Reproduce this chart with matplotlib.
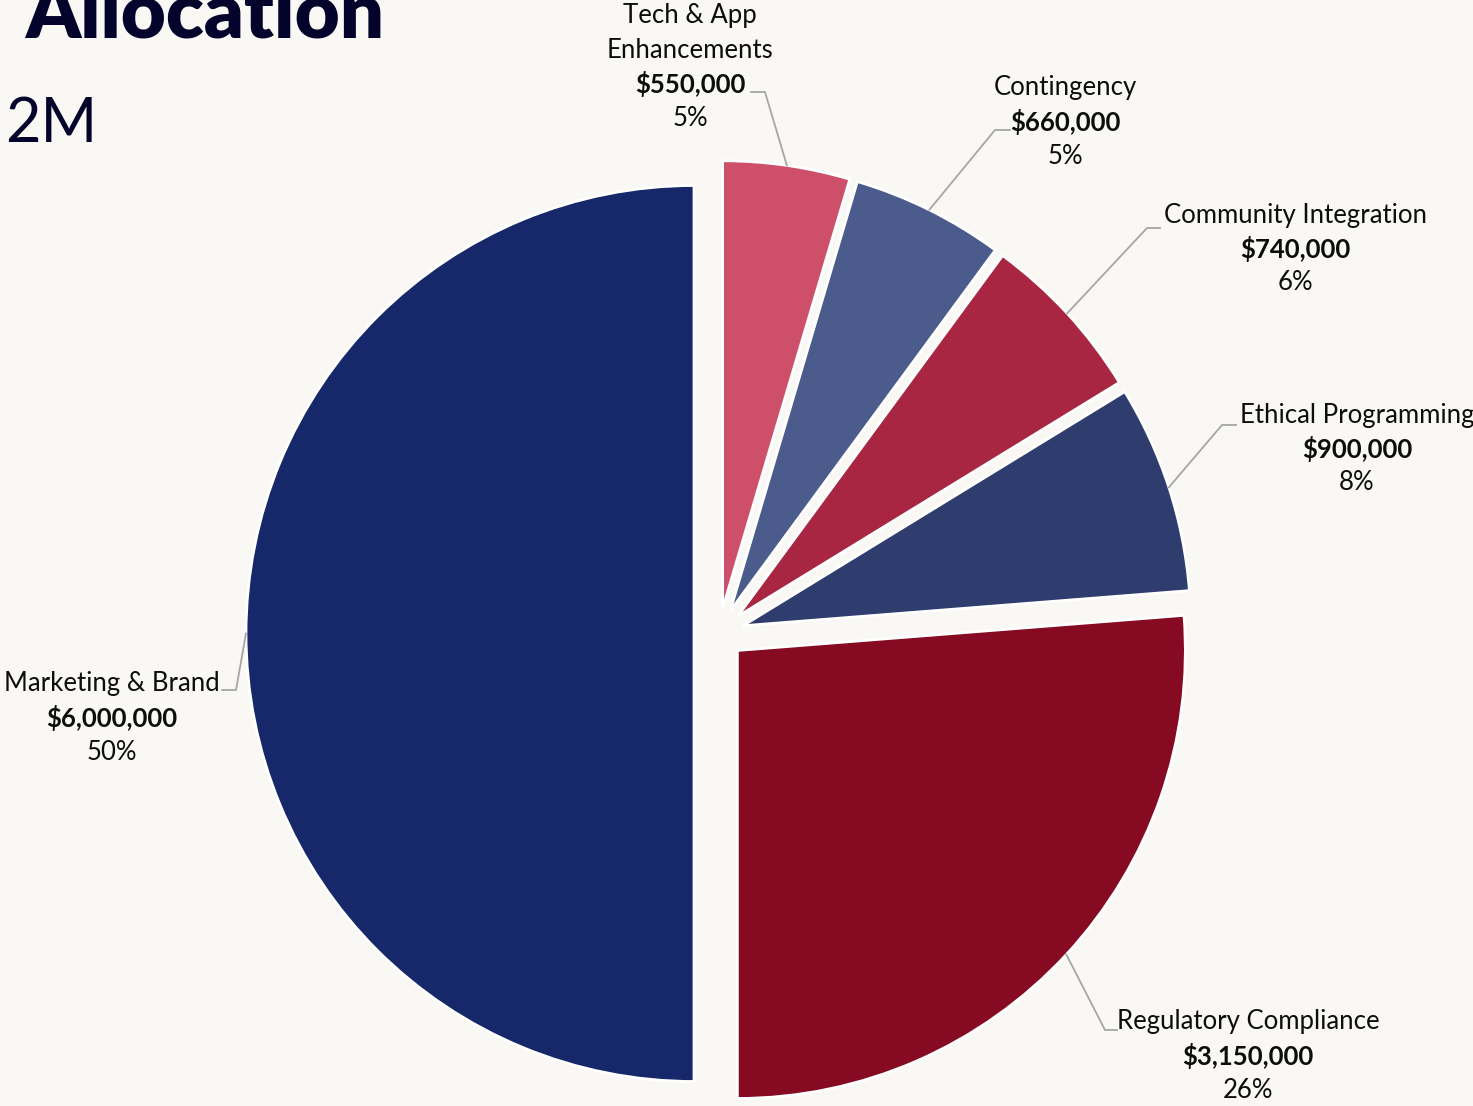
import numpy as np
import matplotlib.pyplot as plt

plt.rcParams['font.family'] = ['Lato', 'DejaVu Sans']

# budget split, clockwise from 12 o'clock
categories = ["Tech & App\nEnhancements", "Contingency", "Community Integration",
              "Ethical Programming", "Regulatory Compliance", "Marketing & Brand"]
amounts = [550000, 660000, 740000, 900000, 3150000, 6000000]
pct_labels = ["5%", "5%", "6%", "8%", "26%", "50%"]
colors = ["#CE4F6A", "#4A5B8C", "#A82642", "#2E3C6E", "#860A22", "#16286A"]

W, H = 1473, 1106
BG = "#F9F8F5"
NAVY = "#03032B"

# label layout in pixels from the top-left: text centre x, first line y, elbow, end of leader
label_x = [690, 1065, 1295, 1357, 1248, 112]
label_y = [16, 88, 215, 415, 1022, 684]
elbows = [(765, 92), (995, 130), (1147, 228), (1222, 425), (1105, 1030), (236, 690)]
leader_end = [751, 1010, 1160, 1236, 1117, 222]
LINE = 34


def flip(y):
    return H - y


fig = plt.figure(figsize=(W / 100, H / 100), dpi=100, facecolor=BG)
ax = fig.add_axes([0, 0, 1, 1])
ax.set_facecolor(BG)

# explode is in data units here (pixels), since radius is given in pixels
R = 448
wedges, _ = ax.pie(amounts, colors=colors, startangle=90, counterclock=False,
                   radius=R, center=(719, flip(633.5)), explode=[25] * len(amounts),
                   wedgeprops=dict(edgecolor="white", linewidth=2))
ax.set_xlim(0, W)
ax.set_ylim(0, H)
ax.axis('off')

for i, w in enumerate(wedges):
    mid = np.deg2rad((w.theta1 + w.theta2) / 2)
    sx = w.center[0] + w.r * np.cos(mid)
    sy = w.center[1] + w.r * np.sin(mid)
    ex, ey = elbows[i]
    ax.plot([sx, ex, leader_end[i]], [sy, flip(ey), flip(ey)],
            color="#A6A6A6", lw=1.3, solid_joinstyle='miter', zorder=1)

    lines = [(t, 'normal') for t in categories[i].split("\n")]
    lines += [("${:,}".format(amounts[i]), 'bold'), (pct_labels[i], 'normal')]
    for k, (txt, wt) in enumerate(lines):
        ax.text(label_x[i], flip(label_y[i] + k * LINE), txt, ha='center', va='center',
                fontsize=18.5, fontweight=wt, color="#0D0D0D")

fig.text(25 / W, 1 - 38 / H, "Allocation", ha='left', va='baseline',
         fontsize=56, fontweight='heavy', color=NAVY)
fig.text(5 / W, 1 - 142 / H, "2M", ha='left', va='baseline',
         fontsize=44, color=NAVY)

fig.savefig("out.png", dpi=100, facecolor=BG)
